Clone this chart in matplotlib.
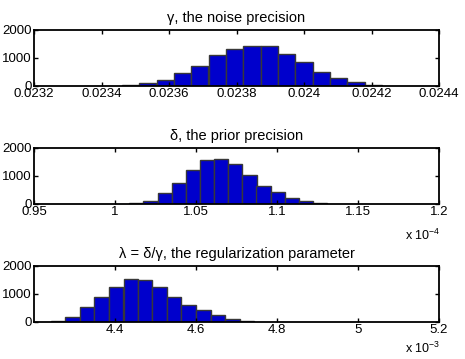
import matplotlib
matplotlib.use("Agg")
import matplotlib.pyplot as plt

plt.rcParams['font.family'] = ['Liberation Sans', 'DejaVu Sans']
plt.rcParams['mathtext.default'] = 'regular'
plt.rcParams['font.size'] = 9

# gamma, noise precision
gamma_centers = [0.023486, 0.023537, 0.023589, 0.023640, 0.023691, 0.023743, 0.023794,
                 0.023846, 0.023897, 0.023948, 0.024000, 0.024051, 0.024103, 0.024154, 0.024205]
gamma_counts = [20, 100, 200, 450, 720, 1100, 1330, 1440, 1420, 1150, 870, 500, 290, 140, 50]
gamma_width = 0.0000514

# delta, prior precision (x 1e-4)
delta_centers = [1.0132, 1.0219, 1.0306, 1.0393, 1.0481, 1.0568, 1.0655,
                 1.0743, 1.0830, 1.0917, 1.1004, 1.1092, 1.1179, 1.1266]
delta_counts = [20, 120, 390, 740, 1200, 1570, 1600, 1420, 1050, 660, 420, 230, 120, 30]
delta_width = 0.00873

# lambda = delta/gamma (x 1e-3)
lam_centers = [4.259, 4.295, 4.331, 4.367, 4.403, 4.439, 4.474,
               4.510, 4.546, 4.582, 4.618, 4.654, 4.690, 4.726]
lam_counts = [50, 190, 520, 900, 1260, 1540, 1510, 1260, 900, 590, 420, 240, 100, 40]
lam_width = 0.0359

panels = [
    (gamma_centers, gamma_counts, gamma_width, 'γ, the noise precision',
     (0.0232, 0.0244), [0.0232, 0.0234, 0.0236, 0.0238, 0.024, 0.0242, 0.0244],
     ['0.0232', '0.0234', '0.0236', '0.0238', '0.024', '0.0242', '0.0244'], None),
    (delta_centers, delta_counts, delta_width, 'δ, the prior precision',
     (0.95, 1.2), [0.95, 1.0, 1.05, 1.1, 1.15, 1.2],
     ['0.95', '1', '1.05', '1.1', '1.15', '1.2'], r'x $10^{-4}$'),
    (lam_centers, lam_counts, lam_width, 'λ = δ/γ, the regularization parameter',
     (4.2, 5.2), [4.4, 4.6, 4.8, 5.0, 5.2],
     ['4.4', '4.6', '4.8', '5', '5.2'], r'x $10^{-3}$'),
]

W, H = 465, 359
fig = plt.figure(figsize=(W / 100, H / 100), dpi=100)

left, right = 34, 439
tops = [30, 148, 266]
mult_offsets = [0, 31, 26]
ax_h = 56

for (centers, counts, width, title, xlim, xt, xtl, mult), top, off in zip(panels, tops, mult_offsets):
    ax = fig.add_axes([left / W, 1 - (top + ax_h) / H, (right - left) / W, ax_h / H])
    ax.bar(centers, counts, width=width, color='#0000cc', edgecolor='#383838',
           linewidth=1.0, align='center')
    ax.set_xlim(*xlim)
    ax.set_ylim(0, 2000)
    ax.set_xticks(xt)
    ax.set_xticklabels(xtl)
    ax.set_yticks([0, 1000, 2000])
    ax.tick_params(direction='in', length=3, width=1, top=True, right=True,
                   pad=1.5, labelsize=9.5)
    for s in ax.spines.values():
        s.set_linewidth(1.3)
    ax.set_title(title, fontsize=10.5, pad=6)
    if mult:
        fig.text((right + 1) / W, 1 - (top + ax_h + off) / H, mult, ha='right',
                 va='center', fontsize=9)

fig.savefig('out.png', dpi=100)
